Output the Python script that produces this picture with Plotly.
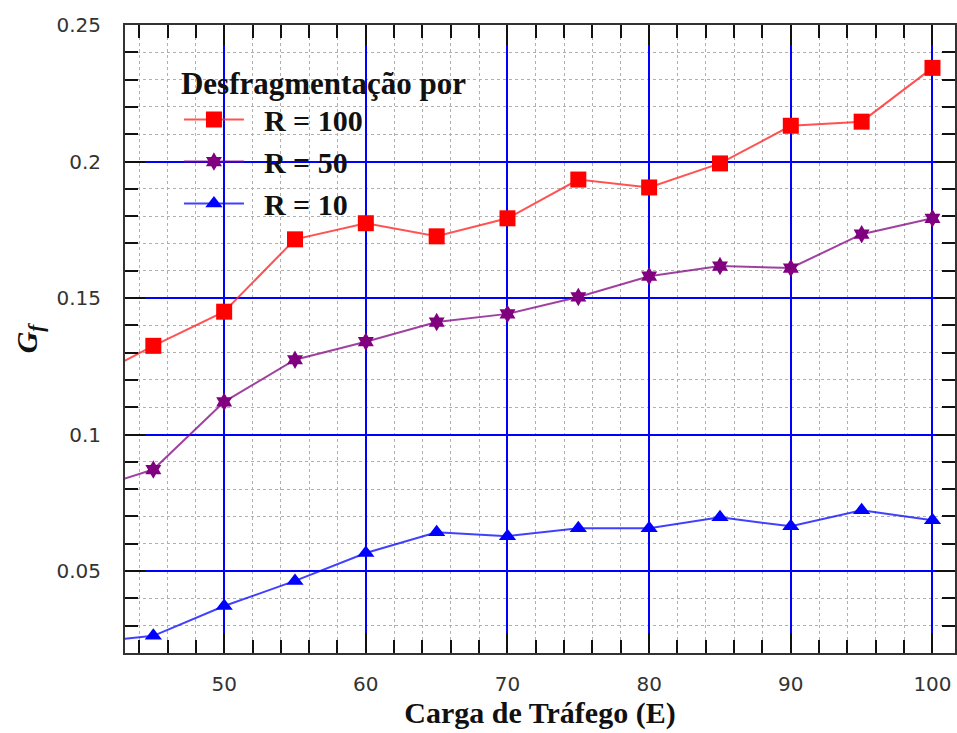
import plotly.graph_objects as go

# Traffic load (Erlang) and fragmentation metric G_f for each defragmentation period R
carga = [40, 45, 50, 55, 60, 65, 70, 75, 80, 85, 90, 95, 100]
gf_r100 = [0.119, 0.1325, 0.145, 0.1715, 0.1774, 0.1726, 0.1792, 0.1934, 0.1905, 0.1993, 0.2131, 0.2146, 0.2343]
gf_r50 = [0.079, 0.0872, 0.112, 0.1274, 0.134, 0.1412, 0.1442, 0.1504, 0.158, 0.1617, 0.161, 0.1734, 0.1792]
gf_r10 = [0.0236, 0.0263, 0.0372, 0.0464, 0.0566, 0.0642, 0.0628, 0.0657, 0.0657, 0.0697, 0.0664, 0.0723, 0.0686]

x_ticks = [50, 60, 70, 80, 90, 100]
y_ticks = [0.05, 0.1, 0.15, 0.2, 0.25]
y_tick_text = ["0.05", "0.1", "0.15", "0.2", "0.25"]

SERIF = "Liberation Serif"
SANS = "DejaVu Sans"
NBSP = "\u00a0"

series = [
    ("R = 100", gf_r100, "#ff0000", "rgba(255,40,40,0.8)", "square", 16),
    ("R = 50", gf_r50, "#800080", "rgba(128,0,128,0.75)", "hexagram", 14),
    ("R = 10", gf_r10, "#0000ff", "rgba(0,0,255,0.75)", "triangle-up", 15),
]

fig = go.Figure()
for name, vals, mcol, lcol, sym, size in series:
    fig.add_trace(go.Scatter(
        x=carga, y=vals, name=NBSP * 2 + "<b>" + name + "</b>", mode="lines+markers",
        line=dict(color=lcol, width=2),
        marker=dict(symbol=sym, size=size, color=mcol, line=dict(width=0)),
    ))

axis_common = dict(
    showline=True, linecolor="#333333", linewidth=2, mirror="allticks",
    ticks="inside", ticklen=20, tickwidth=2, tickcolor="#111111",
    showgrid=True, gridcolor="#0000ff", gridwidth=2,
    zeroline=False,
    tickfont=dict(family=SANS, size=20, color="#333333"),
)

fig.update_xaxes(
    **axis_common,
    range=[43, 101.59],
    tickvals=x_ticks,
    ticklabelstandoff=12,
    minor=dict(dtick=2, tick0=0, ticks="inside", ticklen=13, tickwidth=2, tickcolor="#111111",
               showgrid=True, gridcolor="#b0b0b0", griddash="dot", gridwidth=1),
    title=dict(text="<b>Carga de Tráfego (E)</b>", font=dict(family=SERIF, size=30, color="#111111"),
               standoff=6),
)
fig.update_yaxes(
    **axis_common,
    range=[0.02, 0.25],
    tickvals=y_ticks, ticktext=y_tick_text,
    ticklabelstandoff=18,
    minor=dict(dtick=0.01, tick0=0, ticks="inside", ticklen=13, tickwidth=2, tickcolor="#111111",
               showgrid=True, gridcolor="#b0b0b0", griddash="dot", gridwidth=1),
    title=dict(text="<b><i>G<sub>f</sub></i></b>", font=dict(family=SERIF, size=30, color="#111111"),
               standoff=10),
)

fig.update_layout(
    width=957, height=733,
    margin=dict(l=125, r=0, t=25, b=80),
    plot_bgcolor="white", paper_bgcolor="white",
    showlegend=True,
    legend=dict(
        x=0.065, y=0.955, xanchor="left", yanchor="top",
        bgcolor="rgba(0,0,0,0)", borderwidth=0,
        title=dict(text="<b>Desfragmentação por</b>", font=dict(family=SERIF, size=31, color="#111111")),
        font=dict(family=SERIF, size=30, color="#111111"),
        itemwidth=60, tracegroupgap=0,
    ),
)

fig.write_html("out.html")
